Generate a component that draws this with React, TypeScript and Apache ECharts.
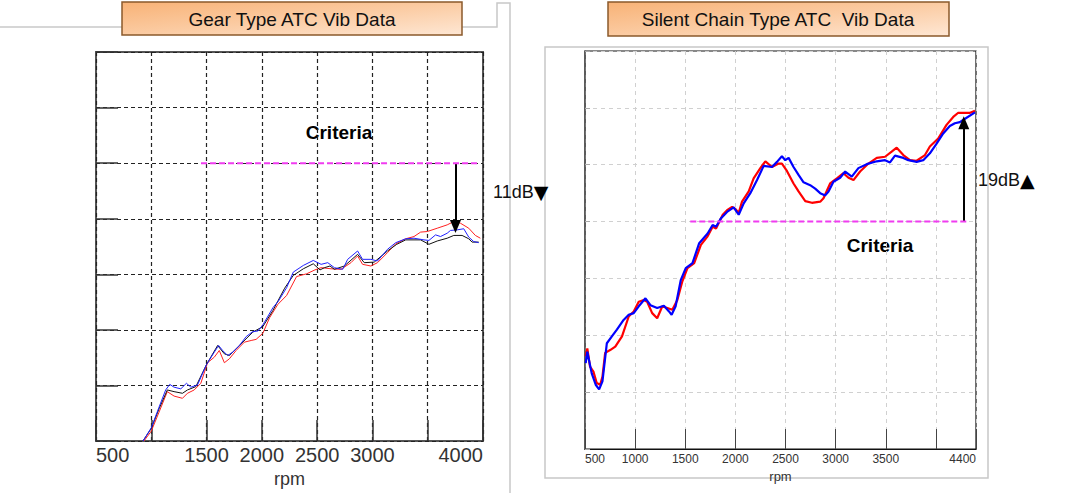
import React, { useEffect, useRef } from "react";
import * as echarts from "echarts";

// ---------- data (rpm, dB-level in grid units of 10 dB) ----------
const gearRed: [number, number][] = [
  [933, 0], [1000, 1.8], [1070, 5.2], [1145, 8.9], [1206, 8.1], [1282, 7.7], [1327, 8.6], [1388, 9.2],
  [1448, 10.4], [1509, 14.1], [1570, 15.1], [1615, 16.3], [1661, 14.1], [1706, 14.8], [1767, 16.3],
  [1842, 17.8], [1903, 18.1], [1948, 18.3], [2009, 19.4], [2070, 22.2], [2145, 24.6], [2224, 26.2],
  [2314, 29.6], [2405, 30.1], [2480, 30.8], [2536, 31.2], [2626, 31.0], [2716, 30.9], [2806, 32.1],
  [2866, 33.3], [2911, 31.8], [2986, 31.5], [3046, 32.1], [3136, 33.9], [3211, 35.5], [3301, 36.4],
  [3376, 36.8], [3436, 37.6], [3496, 37.7], [3586, 38.3], [3676, 38.9], [3736, 39.5], [3796, 39.2],
  [3871, 38.3], [3931, 37.0], [3976, 36.5],
];
const gearBlue: [number, number][] = [
  [925, 0], [1000, 2.4], [1070, 6.1], [1130, 9.2], [1167, 10.2], [1206, 9.7], [1267, 9.4], [1318, 10.4],
  [1358, 9.7], [1418, 10.1], [1500, 13.8], [1570, 16.0], [1609, 17.2], [1645, 16.3], [1691, 15.4],
  [1736, 16.0], [1797, 17.2], [1858, 18.8], [1918, 19.7], [1964, 19.8], [2009, 20.9], [2100, 24.0],
  [2150, 25.2], [2224, 27.6], [2284, 30.4], [2375, 31.6], [2465, 32.5], [2536, 31.8], [2596, 32.1],
  [2656, 31.2], [2731, 30.9], [2776, 32.7], [2866, 34.2], [2911, 32.7], [2986, 32.7], [3046, 32.4],
  [3136, 34.5], [3211, 35.7], [3301, 36.4], [3376, 36.5], [3466, 36.2], [3511, 36.1], [3571, 37.1],
  [3616, 36.8], [3676, 37.4], [3706, 37.9], [3766, 38.0], [3826, 38.2], [3871, 36.7], [3916, 35.9],
  [3961, 35.7],
];
const gearBlack: [number, number][] = [
  [924, 0], [1000, 2.3], [1070, 5.8], [1145, 9.2], [1206, 8.9], [1282, 8.6], [1327, 9.2], [1403, 9.8],
  [1500, 13.8], [1600, 17.2], [1661, 15.7], [1706, 15.4], [1797, 17.2], [1918, 19.6], [2009, 20.6],
  [2100, 23.5], [2206, 27.5], [2284, 29.8], [2375, 31.0], [2465, 31.9], [2526, 30.8], [2566, 31.2],
  [2616, 31.5], [2656, 30.9], [2746, 31.5], [2866, 33.6], [2926, 32.1], [3016, 32.2], [3136, 34.2],
  [3220, 35.4], [3301, 36.2], [3436, 36.2], [3511, 35.4], [3586, 36.0], [3676, 36.5], [3736, 37.0],
  [3811, 37.0], [3871, 36.4], [3901, 35.8], [3961, 35.8],
];

const chainRed: [number, number][] = [
  [507, 16.3], [523, 17.7], [550, 14.5], [584, 13.6], [617, 11.6], [651, 11.3], [674, 12.7], [701, 16.9],
  [751, 17.4], [802, 18.0], [869, 19.8], [936, 23.3], [986, 24.2], [1036, 25.9], [1086, 26.2], [1120, 25.9],
  [1170, 23.9], [1220, 23.0], [1271, 25.1], [1321, 24.8], [1371, 24.5], [1421, 26.2], [1471, 29.5],
  [1522, 31.8], [1589, 32.7], [1656, 35.9], [1723, 37.4], [1773, 39.1], [1807, 38.8], [1874, 41.2],
  [1917, 42.0], [1967, 42.6], [2000, 42.2], [2033, 41.5], [2066, 43.5], [2133, 45.3], [2182, 47.6],
  [2249, 49.4], [2299, 50.6], [2365, 49.6], [2431, 50.2], [2464, 50.2], [2514, 48.9], [2580, 46.7],
  [2630, 45.3], [2697, 43.6], [2763, 43.3], [2846, 43.5], [2879, 44.1], [2945, 46.7], [3012, 47.6],
  [3078, 48.5], [3128, 47.7], [3178, 47.3], [3244, 48.8], [3327, 50.2], [3410, 51.2], [3493, 51.4],
  [3559, 52.3], [3609, 53.0], [3675, 51.7], [3741, 50.8], [3808, 50.7], [3891, 51.7], [3940, 53.2],
  [4023, 54.6], [4106, 57.0], [4173, 58.4], [4220, 59.1], [4336, 59.1], [4390, 59.5],
];
const chainBlue: [number, number][] = [
  [507, 15.1], [523, 17.1], [567, 13.3], [607, 11.3], [641, 10.5], [674, 11.9], [718, 18.6], [768, 19.8],
  [818, 21.0], [885, 22.7], [936, 23.6], [986, 23.9], [1036, 25.1], [1103, 26.5], [1153, 25.3],
  [1220, 24.8], [1287, 25.2], [1338, 24.2], [1364, 23.6], [1404, 25.1], [1455, 29.7], [1505, 31.8],
  [1572, 32.7], [1639, 36.2], [1723, 37.9], [1773, 39.4], [1807, 39.1], [1857, 40.6], [1917, 41.7],
  [1983, 42.5], [2033, 41.2], [2083, 43.2], [2149, 45.0], [2216, 47.3], [2282, 49.8], [2365, 49.6],
  [2415, 50.5], [2464, 51.5], [2498, 50.8], [2531, 51.2], [2580, 49.6], [2630, 48.2], [2680, 46.9],
  [2746, 46.4], [2796, 45.8], [2846, 45.0], [2896, 44.6], [2929, 45.3], [2978, 47.0], [3045, 47.7],
  [3095, 48.8], [3161, 47.9], [3227, 49.4], [3310, 50.1], [3410, 50.6], [3493, 50.8], [3542, 50.4],
  [3592, 51.6], [3675, 51.2], [3725, 50.8], [3808, 50.5], [3874, 50.8], [3940, 52.0], [4007, 53.7],
  [4073, 55.5], [4139, 56.8], [4189, 57.3], [4239, 57.5], [4283, 58.0], [4390, 59.2],
];

const gearCriteria: [number, number][] = [[1450, 50], [3970, 50]];
const chainCriteria: [number, number][] = [[1550, 40], [4330, 40]];
const gearArrow: [number, number][] = [[3751, 50], [3751, 38.6]];
const chainArrow: [number, number][] = [[4278, 40], [4278, 57.4]];

const gearXLabels = [500, 1500, 2000, 2500, 3000, 4000];
const chainXLabels = [500, 1000, 1500, 2000, 2500, 3000, 3500, 4400];

const titles = ["Gear Type ATC Vib Data", "Silent Chain Type ATC  Vib Data"];
const deltaValues = ["11dB", "19dB"];
const deltaMarks = ["▼", "▲"];

const FONT = "'Liberation Sans', Arial, Helvetica, sans-serif";
const MAGENTA = "#f03cf0";

function arrowMarkLine(pts: [number, number][]) {
  return {
    silent: true,
    symbol: ["none", "triangle"],
    symbolSize: [11, 13],
    label: { show: false },
    lineStyle: { color: "#000", width: 2, type: "solid" },
    emphasis: { disabled: true },
    data: [[{ coord: pts[0] }, { coord: pts[1] }]],
  };
}

function deltaText(i: number, x: number, y: number) {
  return {
    type: "text",
    silent: true,
    x,
    y,
    style: {
      text: `{a|${deltaValues[i]}}{b|${deltaMarks[i]}}`,
      align: "left",
      verticalAlign: "middle",
      rich: {
        a: { fontSize: 18, fill: "#111", color: "#111", fontFamily: FONT },
        b: { fontSize: 19, fill: "#000", color: "#000", fontFamily: "'DejaVu Sans', sans-serif" },
      },
    },
  };
}

export default function App() {
  const ref = useRef<HTMLDivElement>(null);

  useEffect(() => {
    if (!ref.current) return;
    const chart = echarts.init(ref.current, undefined, { renderer: "svg" });

    const makeTitleFill = () =>
      new echarts.graphic.LinearGradient(0, 0, 1, 1, [
        { offset: 0, color: "#f8b276" },
        { offset: 0.5, color: "#fbcba2" },
        { offset: 1, color: "#fee7d4" },
      ]);

    const option: any = {
      animation: false,
      textStyle: { fontFamily: FONT },
      grid: [
        { left: 96, top: 52, width: 387, height: 391, show: true, borderColor: "#555", borderWidth: 2, backgroundColor: "transparent" },
        { left: 585, top: 51, width: 391, height: 398, show: true, borderColor: "#111", borderWidth: 1.2, backgroundColor: "transparent" },
      ],
      xAxis: [
        {
          type: "value", gridIndex: 0, min: 500, max: 4000, interval: 500,
          axisLine: { show: false },
          axisTick: { show: true, inside: true, length: 21, lineStyle: { color: "#333", width: 1.5 } },
          axisLabel: {
            show: true, margin: 4, fontSize: 20, color: "#333", fontFamily: FONT,
            showMinLabel: true, showMaxLabel: true, alignMinLabel: "left", alignMaxLabel: "right",
            formatter: (v: number) => (gearXLabels.includes(v) ? String(v) : ""),
          },
          splitLine: { show: true, lineStyle: { color: "#222", type: [4, 3], width: 1.2 } },
          name: "rpm", nameLocation: "middle", nameGap: 24,
          nameTextStyle: { fontSize: 18, color: "#333", fontFamily: FONT },
        },
        {
          type: "value", gridIndex: 1, min: 500, max: 4400, interval: 500,
          axisLine: { show: true, lineStyle: { color: "#111", width: 1.2 } },
          axisTick: { show: true, inside: true, length: 20, lineStyle: { color: "#444", width: 1 } },
          axisLabel: {
            show: true, margin: 4, fontSize: 12, color: "#333", fontFamily: FONT,
            showMinLabel: true, showMaxLabel: true, alignMinLabel: "left", alignMaxLabel: "right",
            formatter: (v: number) => (chainXLabels.includes(v) ? String(v) : ""),
          },
          splitLine: { show: true, lineStyle: { color: "#d0d0d0", type: [4, 4], width: 1 } },
          name: "rpm", nameLocation: "middle", nameGap: 15,
          nameTextStyle: { fontSize: 13, color: "#333", fontFamily: FONT },
        },
      ],
      yAxis: [
        {
          type: "value", gridIndex: 0, min: 0, max: 70, interval: 10,
          axisLine: { show: false },
          axisTick: { show: true, inside: true, length: 22, lineStyle: { color: "#333", width: 1.5 } },
          axisLabel: { show: false },
          splitLine: { show: true, lineStyle: { color: "#222", type: [4, 3], width: 1.2 } },
        },
        {
          type: "value", gridIndex: 1, min: 0, max: 70, interval: 10,
          axisLine: { show: true, lineStyle: { color: "#555", width: 1.5 } },
          axisTick: { show: true, inside: true, length: 5, lineStyle: { color: "#aaa", width: 1 } },
          axisLabel: { show: false },
          splitLine: { show: true, lineStyle: { color: "#d0d0d0", type: [4, 4], width: 1 } },
        },
      ],
      series: [
        { name: "gear red", type: "line", xAxisIndex: 0, yAxisIndex: 0, data: gearRed, showSymbol: false, symbol: "none", lineStyle: { color: "#ff2020", width: 1 }, z: 3 },
        { name: "gear black", type: "line", xAxisIndex: 0, yAxisIndex: 0, data: gearBlack, showSymbol: false, symbol: "none", lineStyle: { color: "#111", width: 1 }, z: 3 },
        { name: "gear blue", type: "line", xAxisIndex: 0, yAxisIndex: 0, data: gearBlue, showSymbol: false, symbol: "none", lineStyle: { color: "#2020ff", width: 1 }, z: 4 },
        {
          name: "gear criteria", type: "line", xAxisIndex: 0, yAxisIndex: 0, data: gearCriteria, showSymbol: false, symbol: "none",
          lineStyle: { color: MAGENTA, width: 2, type: [6, 3] }, z: 5,
          markLine: arrowMarkLine(gearArrow),
        },
        { name: "chain red", type: "line", xAxisIndex: 1, yAxisIndex: 1, data: chainRed, showSymbol: false, symbol: "none", lineStyle: { color: "#ff0000", width: 2.2 }, z: 3 },
        { name: "chain blue", type: "line", xAxisIndex: 1, yAxisIndex: 1, data: chainBlue, showSymbol: false, symbol: "none", lineStyle: { color: "#0000ff", width: 2.2 }, z: 4 },
        {
          name: "chain criteria", type: "line", xAxisIndex: 1, yAxisIndex: 1, data: chainCriteria, showSymbol: false, symbol: "none",
          lineStyle: { color: MAGENTA, width: 2, type: [6, 3] }, z: 5,
          markLine: arrowMarkLine(chainArrow),
        },
      ],
      graphic: [
        { type: "polyline", silent: true, shape: { points: [[0, 27], [122, 27]] }, style: { stroke: "#c8c8c8", lineWidth: 1.5 } },
        { type: "polyline", silent: true, shape: { points: [[462, 27], [497, 27], [497, 3], [510, 3], [510, 493]] }, style: { stroke: "#c8c8c8", lineWidth: 1.5 } },
        { type: "rect", silent: true, shape: { x: 545, y: 47, width: 443, height: 431 }, style: { fill: "transparent", stroke: "#c8c8c8", lineWidth: 1.5 } },
        { type: "rect", silent: true, shape: { x: 122, y: 2, width: 340, height: 33 }, style: { fill: makeTitleFill(), stroke: "#8b5a2b", lineWidth: 1.5 } },
        { type: "text", silent: true, x: 292, y: 19, style: { text: titles[0], fontSize: 19, fill: "#111", align: "center", verticalAlign: "middle", fontFamily: FONT } },
        { type: "rect", silent: true, shape: { x: 608, y: 2, width: 341, height: 34 }, style: { fill: makeTitleFill(), stroke: "#8b5a2b", lineWidth: 1.5 } },
        { type: "text", silent: true, x: 778, y: 19, style: { text: titles[1], fontSize: 19, fill: "#111", align: "center", verticalAlign: "middle", fontFamily: FONT } },
        { type: "text", silent: true, x: 339, y: 132, style: { text: "Criteria", fontSize: 19, fontWeight: "bold", fill: "#000", align: "center", verticalAlign: "middle", fontFamily: FONT } },
        { type: "text", silent: true, x: 880, y: 245, style: { text: "Criteria", fontSize: 19, fontWeight: "bold", fill: "#000", align: "center", verticalAlign: "middle", fontFamily: FONT } },
        deltaText(0, 493, 192),
        deltaText(1, 978, 180),
      ],
    };

    chart.setOption(option);
    return () => chart.dispose();
  }, []);

  return (
    <div
      ref={ref}
      style={{ position: "absolute", left: 0, top: 0, width: 1070, height: 493, background: "#fff" }}
    />
  );
}
